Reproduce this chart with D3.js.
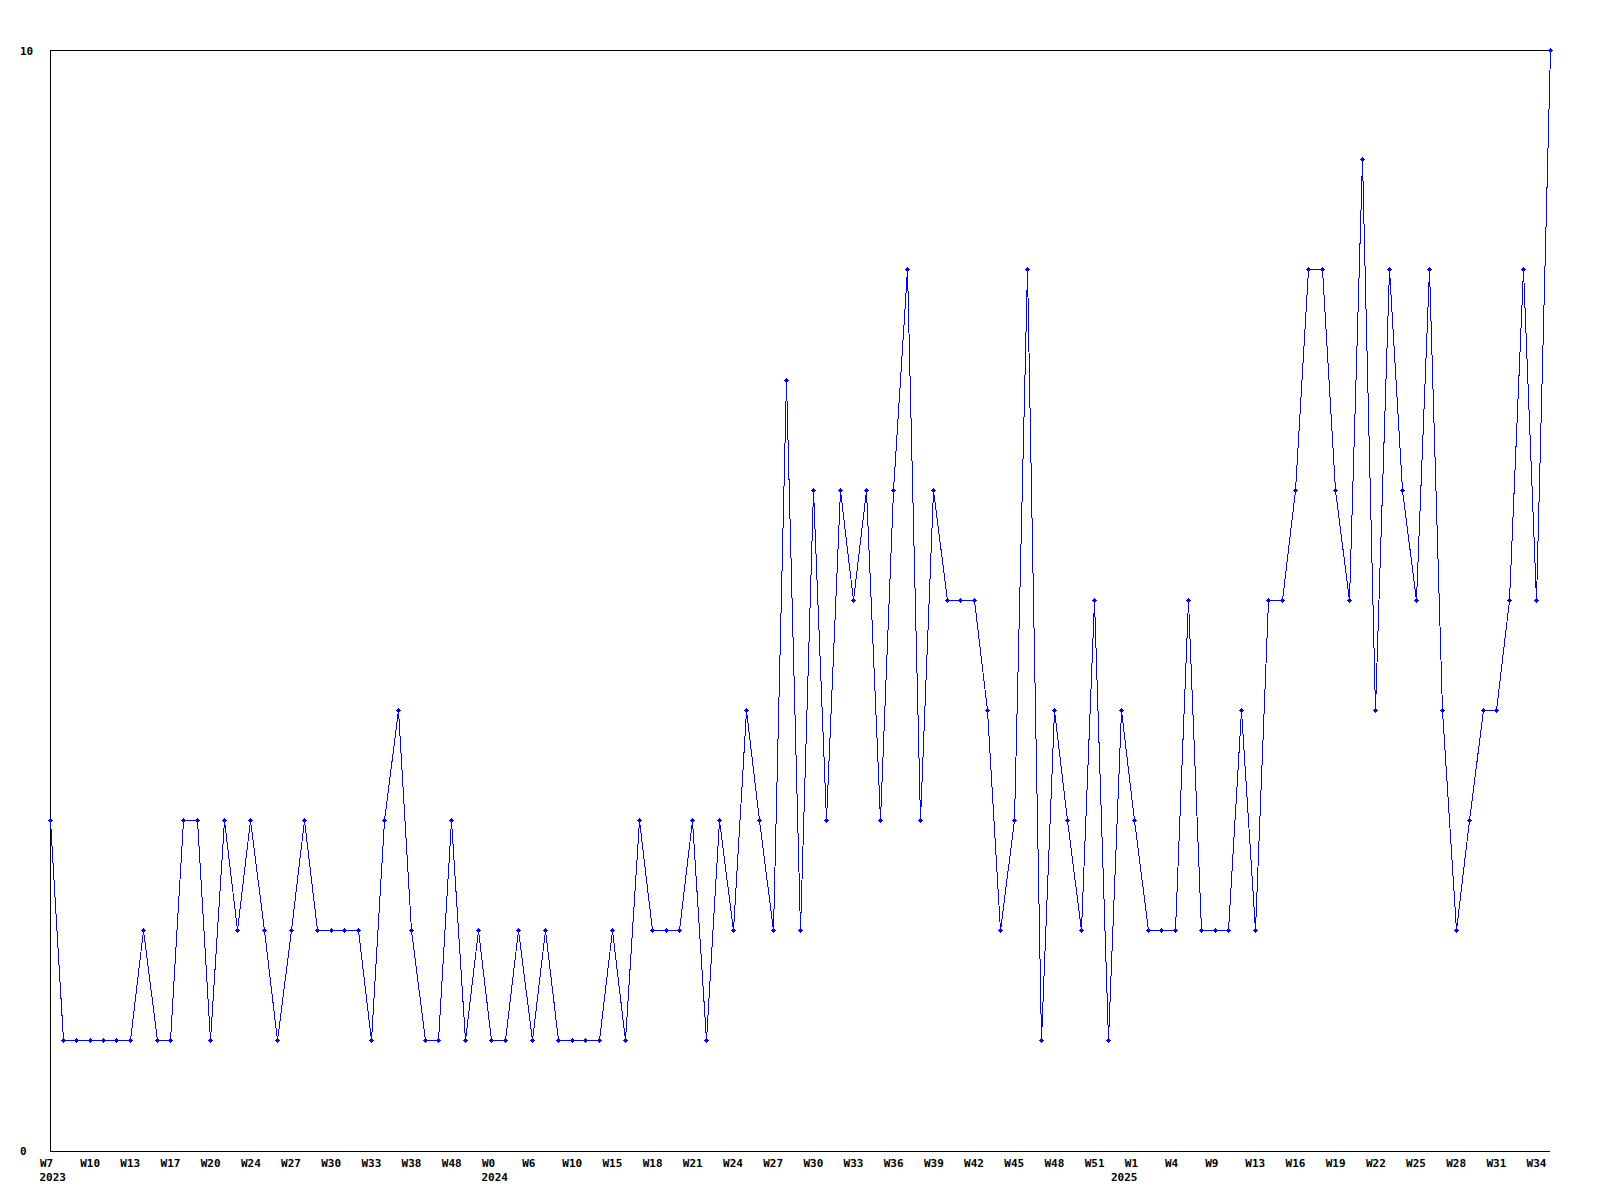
<!DOCTYPE html>
<html>
<head>
<meta charset="utf-8">
<script src="https://cdn.jsdelivr.net/npm/d3@7"></script>
<style>
  html, body { margin: 0; padding: 0; background: #ffffff; }
  svg { display: block; }
  text { font-family: "DejaVu Sans Mono", "Liberation Mono", monospace; font-size: 11px; font-weight: bold; fill: #000; }
</style>
</head>
<body>
<svg id="chart" width="1600" height="1200"></svg>
<script>
// ---- data ----
const values = [
  3,1,1,1,1,1,1,2,1,1,
  3,3,1,3,2,3,2,1,2,3,
  2,2,2,2,1,3,4,2,1,1,
  3,1,2,1,1,2,1,2,1,1,
  1,1,2,1,3,2,2,2,3,1,
  3,2,4,3,2,7,2,6,3,6,
  5,6,3,6,8,3,6,5,5,5,
  4,2,3,8,1,4,3,2,5,1,
  4,3,2,2,2,5,2,2,2,4,
  2,5,5,6,8,8,6,5,9,4,
  8,6,5,8,4,2,3,4,4,5,
  8,5,10
];
const weekTickLabels = [
  "W7","W10","W13","W17","W20","W24","W27","W30","W33","W38","W48",
  "W0","W6","W10","W15","W18","W21","W24","W27","W30","W33","W36","W39","W42","W45","W48","W51",
  "W1","W4","W9","W13","W16","W19","W22","W25","W28","W31","W34"
];
const tickEvery = 3;
const yearLabels = ["2023", "2024", "2025"];
const yearIndex = [0, 33, 80];
const yTicks = [0, 10];

// ---- layout ----
const svg = d3.select("#chart");
const mLeft = 50, mRight = 1550, mTop = 50, mBottom = 1150;

const x = d3.scaleLinear().domain([0, values.length - 1]).range([mLeft, mRight]);
const y = d3.scaleLinear().domain([0, 10]).range([mBottom, mTop]);

const px = v => Math.floor(v) + 0.5;

// frame: top, left, bottom
const frame = svg.append("g").attr("stroke", "#000").attr("stroke-width", 1)
  .attr("shape-rendering", "crispEdges");
frame.append("line").attr("x1", mLeft).attr("x2", mRight + 1).attr("y1", mTop + 0.5).attr("y2", mTop + 0.5);
frame.append("line").attr("x1", mLeft + 0.5).attr("x2", mLeft + 0.5).attr("y1", mTop).attr("y2", mBottom + 2);
frame.append("line").attr("x1", mLeft).attr("x2", mRight).attr("y1", mBottom + 1.5).attr("y2", mBottom + 1.5);

// y axis labels
const yAxis = d3.axisLeft(y).tickValues(yTicks).tickSize(0).tickFormat(d3.format("d"));
const yg = svg.append("g").attr("transform", "translate(20,0)").call(yAxis);
yg.select(".domain").remove();
yg.attr("font-family", null).attr("font-size", null);
yg.selectAll("text").attr("x", 0).attr("dy", null)
  .attr("text-anchor", "start").attr("y", 4);
yg.attr("text-anchor", null);

// x axis week labels
const tickIdx = weekTickLabels.map((_, i) => i * tickEvery);
const xAxis = d3.axisBottom(x).tickValues(tickIdx).tickSize(0)
  .tickFormat((d, i) => weekTickLabels[i]);
const xg = svg.append("g").attr("transform", `translate(0,${mBottom})`).call(xAxis);
xg.select(".domain").remove();
xg.attr("font-family", null).attr("font-size", null);
xg.selectAll("text").attr("text-anchor", "start").attr("x", -10.5).attr("dy", null).attr("y", 17);

// year labels
svg.append("g").selectAll("text").data(yearLabels).join("text")
  .attr("x", (d, i) => x(yearIndex[i]) - 10.5)
  .attr("y", mBottom + 31)
  .attr("text-anchor", "start")
  .text(d => d);

// line
const line = d3.line()
  .x((d, i) => px(x(i)))
  .y(d => px(y(d)));
svg.append("path").datum(values)
  .attr("d", line)
  .attr("fill", "none")
  .attr("stroke", "#0000ff")
  .attr("stroke-width", 1)
  .attr("shape-rendering", "crispEdges");

// markers
const marker = "M-0.5,-2.5h1v1h1v1h1v1h-1v1h-1v1h-1v-1h-1v-1h-1v-1h1v-1h1z";
svg.append("g").selectAll("path").data(values).join("path")
  .attr("d", marker)
  .attr("transform", (d, i) => `translate(${px(x(i))},${px(y(d))})`)
  .attr("fill", "#0000ff")
  .attr("shape-rendering", "crispEdges");
</script>
</body>
</html>
